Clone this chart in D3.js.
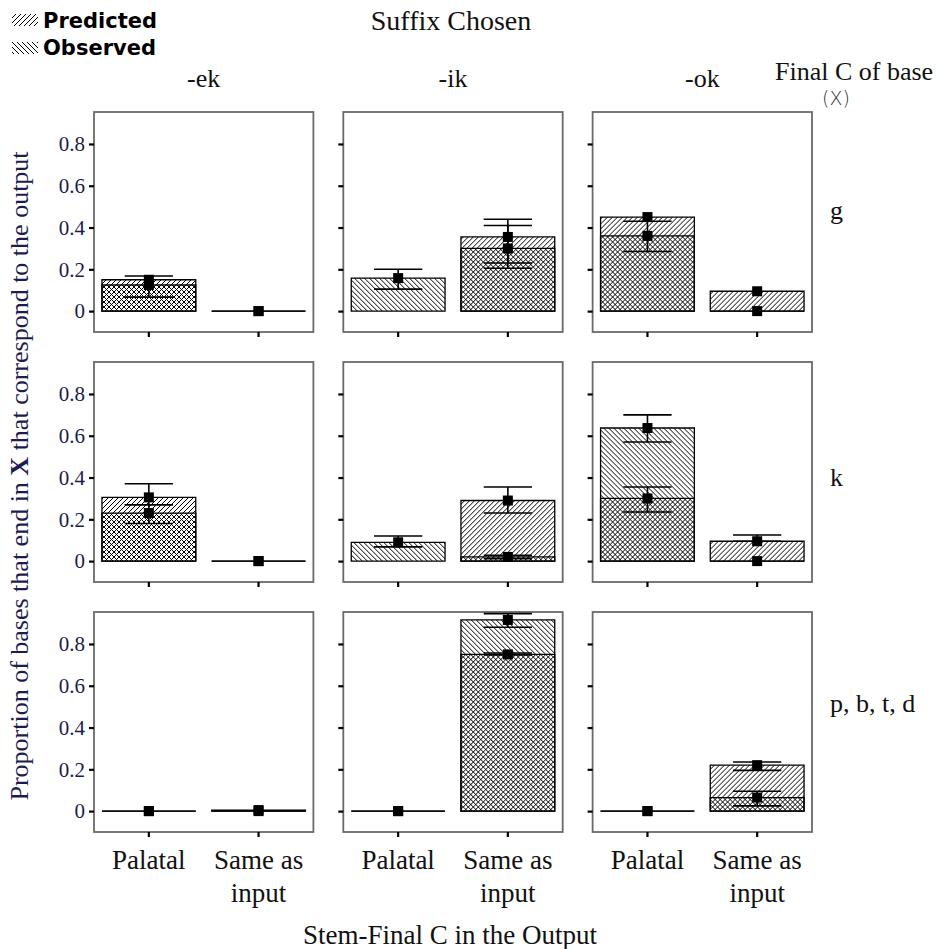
<!DOCTYPE html>
<html>
<head>
<meta charset="utf-8">
<script src="https://cdn.jsdelivr.net/npm/d3@7"></script>
<style>
  body { margin: 0; background: #fff; }
  svg { display: block; }
</style>
</head>
<body>
<svg id="chart" width="937" height="949"></svg>
<script>
// ---- data ----
const suffixes = ["-ek", "-ik", "-ok"];
const baseFinals = ["g", "k", "p, b, t, d"];
const outputs = ["Palatal", "Same as input"];
const outputLines = [["Palatal"], ["Same as", "input"]];
const yTickValues = [0, 0.2, 0.4, 0.6, 0.8];
const yTickLabels = ["0", "0.2", "0.4", "0.6", "0.8"];

// One row per base-final consonant; each row lists
// [-ek Palatal, -ek Same, -ik Palatal, -ik Same, -ok Palatal, -ok Same]
const predicted = [
  [0.150, 0.000, null, 0.355, 0.450, 0.095],
  [0.305, 0.000, null, 0.290, 0.300, 0.095],
  [0.000, 0.005, 0.000, 0.750, 0.000, 0.220]
];
const predictedLow = [
  [null, null, null, 0.230, null, null],
  [0.270, null, null, 0.230, 0.235, 0.095],
  [null, null, null, 0.747, null, 0.195]
];
const predictedHigh = [
  [null, null, null, 0.440, null, null],
  [0.370, null, null, 0.355, 0.355, 0.125],
  [null, null, null, 0.757, null, 0.235]
];
const observed = [
  [0.125, 0.000, 0.158, 0.300, 0.360, 0.000],
  [0.230, 0.000, 0.090, 0.020, 0.637, 0.000],
  [0.000, 0.000, 0.000, 0.915, 0.000, 0.065]
];
const observedLow = [
  [0.067, null, 0.105, 0.205, 0.285, null],
  [0.180, null, 0.068, 0.012, 0.570, null],
  [null, null, null, 0.880, null, 0.025]
];
const observedHigh = [
  [0.168, null, 0.200, 0.410, 0.430, null],
  [0.270, null, 0.120, 0.028, 0.700, null],
  [null, null, null, 0.945, null, 0.095]
];

// ---- layout ----
const SERIF = "Liberation Serif, Times New Roman, serif";
const SANS = "DejaVu Sans, sans-serif";
const NAVY = "#1c1c4e";

const svg = d3.select("#chart");

const colBand = d3.scaleBand().domain(suffixes).range([94, 812]).paddingInner(0.12).paddingOuter(0);
const rowBand = d3.scaleBand().domain(baseFinals).range([112, 832]).paddingInner(0.12).paddingOuter(0);
const pw = colBand.bandwidth();
const ph = rowBand.bandwidth();

const y = d3.scaleLinear().domain([-0.1, 0.953]).range([ph, 0]);
const x = d3.scaleBand().domain(outputs).range([0, pw]);
const barW = x.bandwidth() * 0.855;
const capW = x.bandwidth() * 0.44;
const markSize = 10;

// hatch patterns: Predicted = "////", Observed = "\\\\"
const defs = svg.append("defs");
defs.append("pattern")
  .attr("id", "hatchPred").attr("patternUnits", "userSpaceOnUse")
  .attr("width", 5).attr("height", 5)
  .append("path")
  .attr("d", "M-1,1 l2,-2 M0,5 l5,-5 M4,6 l2,-2")
  .attr("stroke", "#000").attr("stroke-width", 1);
defs.append("pattern")
  .attr("id", "hatchObs").attr("patternUnits", "userSpaceOnUse")
  .attr("width", 5).attr("height", 5)
  .append("path")
  .attr("d", "M-1,4 l2,2 M0,0 l5,5 M4,-1 l2,2")
  .attr("stroke", "#000").attr("stroke-width", 1);

// legend
const legend = [["Predicted", "hatchPred"], ["Observed", "hatchObs"]];
legend.forEach(([label, pat], i) => {
  svg.append("rect")
    .attr("x", 12).attr("y", 14 + i * 28).attr("width", 26).attr("height", 12)
    .attr("fill", `url(#${pat})`);
  svg.append("text")
    .attr("x", 43).attr("y", 28 + i * 27)
    .attr("font-family", SANS).attr("font-weight", "bold").attr("font-size", 21)
    .attr("fill", "#000")
    .text(label);
});

// titles
svg.append("text")
  .attr("x", 451).attr("y", 30).attr("text-anchor", "middle")
  .attr("font-family", SERIF).attr("font-size", 28).attr("fill", "#111")
  .text("Suffix Chosen");

svg.append("text")
  .attr("x", 775).attr("y", 80)
  .attr("font-family", SERIF).attr("font-size", 26).attr("fill", "#111")
  .text("Final C of base");
svg.append("text")
  .attr("x", 822).attr("y", 105)
  .attr("font-family", SANS).attr("font-size", 19).attr("font-weight", 300).attr("fill", "#333")
  .text("(X)");

svg.append("text")
  .attr("x", 450).attr("y", 944).attr("text-anchor", "middle")
  .attr("font-family", SERIF).attr("font-size", 27).attr("fill", "#111")
  .text("Stem-Final C in the Output");

const yTitle = svg.append("text")
  .attr("transform", "translate(28,476) rotate(-90)")
  .attr("text-anchor", "middle")
  .attr("font-family", SERIF).attr("font-size", 26).attr("fill", NAVY);
yTitle.append("tspan").text("Proportion of bases that end in ");
yTitle.append("tspan").attr("font-weight", "bold").text("X");
yTitle.append("tspan").text(" that correspond to the output");

// column headings
suffixes.forEach(s => {
  svg.append("text")
    .attr("x", colBand(s) + pw / 2).attr("y", 87).attr("text-anchor", "middle")
    .attr("font-family", SERIF).attr("font-size", 26).attr("fill", "#111")
    .text(s);
});

// row headings
const rowLabelBaseline = [219, 486, 712];
baseFinals.forEach((b, r) => {
  svg.append("text")
    .attr("x", 830).attr("y", rowLabelBaseline[r])
    .attr("font-family", SERIF).attr("font-size", 26).attr("fill", "#111")
    .text(b);
});

// bar outline as a path so zero-height bars still show as a line
function barPath(cx, v) {
  const x0 = cx - barW / 2, x1 = cx + barW / 2;
  const y0 = y(0), y1 = y(v);
  return `M${x0},${y0}L${x1},${y0}L${x1},${y1}L${x0},${y1}Z`;
}

function errorBar(g, cx, lo, hi) {
  if (lo == null || hi == null) return;
  g.append("line")
    .attr("x1", cx).attr("x2", cx).attr("y1", y(lo)).attr("y2", y(hi))
    .attr("stroke", "#000").attr("stroke-width", 1.6);
  [lo, hi].forEach(v => {
    g.append("line")
      .attr("x1", cx - capW / 2).attr("x2", cx + capW / 2)
      .attr("y1", y(v)).attr("y2", y(v))
      .attr("stroke", "#000").attr("stroke-width", 1.6);
  });
}

// panels
baseFinals.forEach((base, r) => {
  suffixes.forEach((suf, c) => {
    const g = svg.append("g")
      .attr("transform", `translate(${colBand(suf)},${rowBand(base)})`);

    // frame
    g.append("rect")
      .attr("x", 0).attr("y", 0).attr("width", pw).attr("height", ph)
      .attr("fill", "none").attr("stroke", "#6a6a6a").attr("stroke-width", 1.8);

    // y ticks
    const ya = g.append("g").call(
      d3.axisLeft(y).tickValues(yTickValues).tickSize(5).tickPadding(4)
        .tickFormat((d, i) => (c === 0 ? yTickLabels[i] : ""))
    );
    ya.attr("font-family", SERIF).attr("font-size", 21);
    ya.select(".domain").remove();
    ya.selectAll(".tick line").attr("stroke", "#000").attr("stroke-width", 2.2);
    ya.selectAll(".tick text").attr("fill", NAVY);

    // x ticks
    const xa = g.append("g").attr("transform", `translate(0,${ph})`).call(
      d3.axisBottom(x).tickSize(5).tickFormat("")
    );
    xa.select(".domain").remove();
    xa.selectAll(".tick line").attr("stroke", "#000").attr("stroke-width", 2.2);

    outputs.forEach((o, k) => {
      const idx = c * 2 + k;
      const cx = x(o) + x.bandwidth() / 2;
      const pv = predicted[r][idx];
      const ov = observed[r][idx];

      if (pv != null) {
        g.append("path").attr("d", barPath(cx, pv))
          .attr("fill", "url(#hatchPred)").attr("stroke", "#000").attr("stroke-width", 1.3);
      }
      if (ov != null) {
        g.append("path").attr("d", barPath(cx, ov))
          .attr("fill", "url(#hatchObs)").attr("stroke", "#000").attr("stroke-width", 1.3);
      }

      errorBar(g, cx, predictedLow[r][idx], predictedHigh[r][idx]);
      errorBar(g, cx, observedLow[r][idx], observedHigh[r][idx]);

      [pv, ov].forEach(v => {
        if (v == null) return;
        g.append("rect")
          .attr("x", cx - markSize / 2).attr("y", y(v) - markSize / 2)
          .attr("width", markSize).attr("height", markSize)
          .attr("fill", "#000");
      });
    });

    // category labels under the bottom row
    if (r === baseFinals.length - 1) {
      outputs.forEach((o, k) => {
        const t = g.append("text")
          .attr("x", x(o) + x.bandwidth() / 2).attr("y", 869 - rowBand(base))
          .attr("text-anchor", "middle")
          .attr("font-family", SERIF).attr("font-size", 27).attr("fill", "#111");
        outputLines[k].forEach((line, li) => {
          t.append("tspan")
            .attr("x", x(o) + x.bandwidth() / 2)
            .attr("dy", li === 0 ? 0 : 33)
            .text(line);
        });
      });
    }
  });
});
</script>
</body>
</html>
